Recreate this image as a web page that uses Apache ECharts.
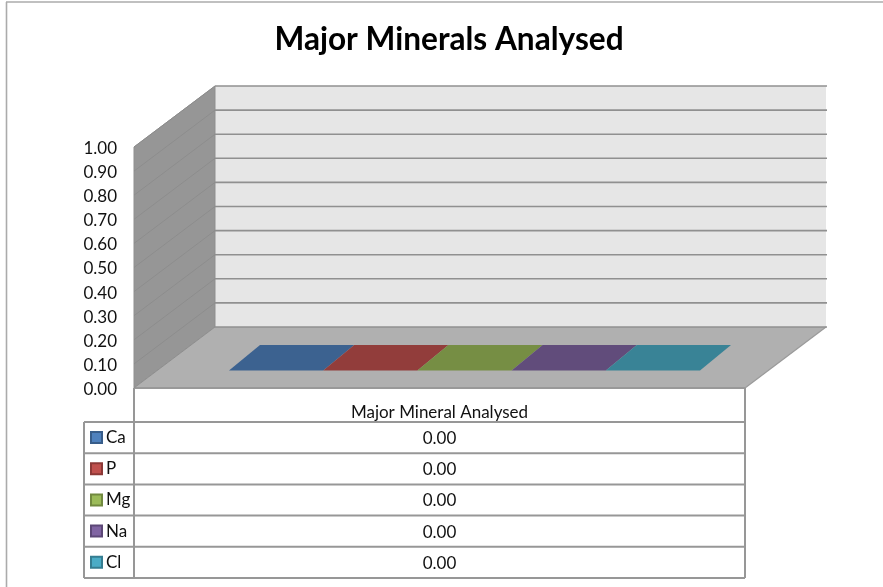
<!DOCTYPE html>
<html><head><meta charset="utf-8">
<style>html,body{margin:0;padding:0;background:#fff}#c{width:883px;height:587px}</style>
<script src="https://cdn.jsdelivr.net/npm/echarts@6/dist/echarts.min.js"></script>
</head><body><div id="c"></div>
<script>
const chartTitle = 'Major Minerals Analysed';
const categories = ['Major Mineral Analysed'];
const minerals = ['Ca', 'P', 'Mg', 'Na', 'Cl'];
const caValues = [0];
const pValues = [0];
const mgValues = [0];
const naValues = [0];
const clValues = [0];
const seriesValues = [caValues, pValues, mgValues, naValues, clValues];
const colors = ['#4F81BD', '#C0504D', '#9BBB59', '#8064A2', '#4BACC6'];
const borders = ['#385D8A', '#8C3836', '#71893F', '#5C4776', '#357D91'];
const yTicks = [0, 0.1, 0.2, 0.3, 0.4, 0.5, 0.6, 0.7, 0.8, 0.9, 1];

const FONT = 'Lato, "Open Sans", sans-serif';
const DEPTH = [81, -61];
const GRID = {left: 134, top: 147, width: 611, height: 241};
const BAR_W = 94.2, FRONT = [25, -17.5], BACK = [56, -43];
const TABLE = {left: 84, split: 134, right: 745, top: 422, rowH: 31.2, headTop: 388};
const LINE = '#979797';

const chart = echarts.init(document.getElementById('c'), null, {renderer: 'canvas'});

function pt(p, o) { return [p[0] + o[0], p[1] + o[1]]; }
function shade(col, k) {
  const c = echarts.color.parse(col);
  return 'rgb(' + Math.round(c[0] * k) + ',' + Math.round(c[1] * k) + ',' + Math.round(c[2] * k) + ')';
}

function renderWalls(params, api) {
  const b0 = api.coord([0, 0]), t0 = api.coord([0, 1]);
  const hw = api.size([1, 0])[0] / 2;
  const fl = [b0[0] - hw, b0[1]], fr = [b0[0] + hw, b0[1]], tl = [t0[0] - hw, t0[1]], tr = [t0[0] + hw, t0[1]];
  return {type: 'group', silent: true, children: [
    {type: 'polygon', shape: {points: [pt(fl, DEPTH), pt(fr, DEPTH), pt(tr, DEPTH), pt(tl, DEPTH)]}, style: {fill: '#E6E6E6'}},
    {type: 'polygon', shape: {points: [fl, pt(fl, DEPTH), pt(tl, DEPTH), tl]}, style: {fill: '#969696', stroke: '#8F8F8F', lineWidth: 1}},
    {type: 'polygon', shape: {points: [fl, fr, pt(fr, DEPTH), pt(fl, DEPTH)]}, style: {fill: '#B0B0B0'}},
    {type: 'line', shape: {x1: fr[0], y1: fr[1], x2: fr[0] + DEPTH[0], y2: fr[1] + DEPTH[1]}, style: {stroke: '#9A9A9A', lineWidth: 1.2}},
    {type: 'line', shape: {x1: fl[0], y1: fl[1], x2: fr[0], y2: fr[1]}, style: {stroke: '#999999', lineWidth: 2}}
  ]};
}

function renderGridline(params, api) {
  const p = api.coord([0, api.value(0)]);
  const hw = api.size([1, 0])[0] / 2;
  const l = [p[0] - hw, p[1]], r = [p[0] + hw, p[1]];
  const bl = pt(l, DEPTH), br = pt(r, DEPTH);
  return {type: 'group', silent: true, children: [
    {type: 'line', shape: {x1: l[0], y1: l[1], x2: bl[0], y2: bl[1]}, style: {stroke: '#8A8A8A', lineWidth: 0.8}},
    {type: 'line', shape: {x1: bl[0], y1: bl[1], x2: br[0] + 1, y2: br[1]}, style: {stroke: '#909090', lineWidth: 1.6}}
  ]};
}

function barRenderer(i) {
  return function (params, api) {
    const center = api.coord([api.value(0), 0]);
    const top = api.coord([api.value(0), api.value(1)]);
    const x0 = center[0] + (i - minerals.length / 2) * BAR_W, x1 = x0 + BAR_W;
    const h = top[1] - center[1];
    const fill = api.visual('color');
    const dark = shade(fill, 0.76);
    const a = [x0 + FRONT[0], center[1] + FRONT[1] + h], b = [x1 + FRONT[0], center[1] + FRONT[1] + h];
    const c = [x1 + BACK[0], center[1] + BACK[1] + h], d = [x0 + BACK[0], center[1] + BACK[1] + h];
    const kids = [{type: 'polygon', shape: {points: [a, b, c, d]}, style: {fill: dark}}];
    if (h < 0) {
      kids.push({type: 'rect', shape: {x: a[0], y: a[1], width: BAR_W, height: -h}, style: {fill: fill}});
    }
    return {type: 'group', children: kids};
  };
}

const series = [
  {type: 'custom', name: 'walls', renderItem: renderWalls, data: [[0]], z: 1, silent: true, encode: {x: 0}},
  {type: 'custom', name: 'gridlines', renderItem: renderGridline, data: yTicks.map(v => [v]), z: 2, silent: true, encode: {y: 0}}
];
minerals.forEach((m, i) => series.push({
  type: 'custom', name: m, z: 3 + i, renderItem: barRenderer(i),
  itemStyle: {color: colors[i], borderColor: borders[i], borderWidth: 1},
  encode: {x: 0, y: 1},
  data: seriesValues[i].map((v, k) => [k, v])
}));

const tableG = [];
function hline(y, x1, x2, w) { tableG.push({type: 'line', silent: true, z: 20, shape: {x1: x1, y1: y, x2: x2, y2: y}, style: {stroke: LINE, lineWidth: w || 2}}); }
function vline(x, y1, y2, w) { tableG.push({type: 'line', silent: true, z: 20, shape: {x1: x, y1: y1, x2: x, y2: y2}, style: {stroke: LINE, lineWidth: w || 2}}); }
const tBottom = TABLE.top + TABLE.rowH * minerals.length;
for (let r = 0; r <= minerals.length; r++) hline(TABLE.top + r * TABLE.rowH, TABLE.left, TABLE.right);
vline(TABLE.left, TABLE.top, tBottom);
vline(TABLE.split, TABLE.headTop, tBottom);
vline(TABLE.right, TABLE.headTop, tBottom);
const midX = (TABLE.split + TABLE.right) / 2;
tableG.push({type: 'text', silent: true, z: 21, style: {x: midX, y: 412.5, text: categories[0], fill: '#111', font: '17px ' + FONT, align: 'center', verticalAlign: 'middle'}});
minerals.forEach((m, i) => tableG.push({type: 'text', silent: true, z: 21, style: {x: midX, y: TABLE.top + (i + 0.5) * TABLE.rowH + 1, text: seriesValues[i][0].toFixed(2), fill: '#111', font: '17px ' + FONT, align: 'center', verticalAlign: 'middle'}}));
// outer chart-area border
tableG.push({type: 'line', silent: true, shape: {x1: 6, y1: 2, x2: 883, y2: 2}, style: {stroke: '#ABABAB', lineWidth: 1.6}});
tableG.push({type: 'line', silent: true, shape: {x1: 6.5, y1: 2, x2: 6.5, y2: 587}, style: {stroke: '#ABABAB', lineWidth: 1.6}});

chart.setOption({
  animation: false,
  backgroundColor: '#ffffff',
  title: {text: chartTitle, left: 444, top: 19, textAlign: 'center',
    textStyle: {fontFamily: FONT, fontSize: 31.6, fontWeight: 'bold', color: '#000'}},
  legend: {show: true, data: minerals, orient: 'vertical', left: 90, top: 429, itemWidth: 11, itemHeight: 11, itemGap: 14.2,
    selectedMode: false, icon: 'rect', padding: 0,
    textStyle: {fontFamily: FONT, fontSize: 17, color: '#111', padding: [0, 0, 0, -1]}},
  grid: GRID,
  xAxis: {type: 'category', data: categories, show: false},
  yAxis: {type: 'value', min: 0, max: 1, interval: 0.1,
    axisLine: {show: false}, axisTick: {show: false}, splitLine: {show: false},
    axisLabel: {margin: 17, color: '#111', fontSize: 17, fontFamily: FONT, verticalAlign: 'top', padding: [-7, 0, 0, 0], formatter: v => v.toFixed(2)}},
  series: series,
  graphic: tableG
});
</script></body></html>
